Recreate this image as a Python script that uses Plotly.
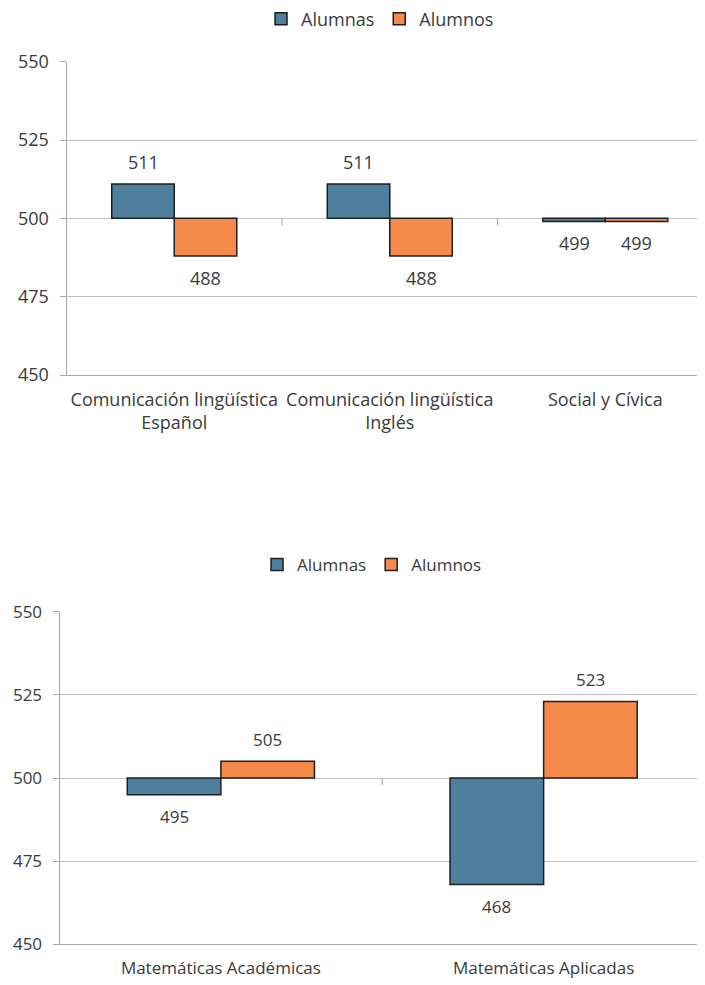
import plotly.graph_objects as go

# ---- data ----
top_categories = ["Comunicación lingüística<br>Español", "Comunicación lingüística<br>Inglés", "Social y Cívica"]
top_alumnas = [511, 511, 499]
top_alumnos = [488, 488, 499]
bottom_categories = ["Matemáticas Académicas", "Matemáticas Aplicadas"]
bottom_alumnas = [495, 468]
bottom_alumnos = [505, 523]
series_names = ["Alumnas", "Alumnos"]
y_ticks = [450, 475, 500, 525, 550]
baseline = 500

# ---- style ----
PAGE_OFF = 8            # default body margin of the written page
W, H = 705 - PAGE_OFF, 985 - PAGE_OFF
BLUE = "#4e7f9d"
ORANGE = "#f58a4b"
EDGE = "#1f1f1f"
GRID = "#c3c3c3"
TXT = "#3a3a3a"
FONT = "Open Sans"
BARGAP = 0.42


def px_x(x):
    return (x - PAGE_OFF) / W


def px_y(y):
    return 1 - (y - PAGE_OFF) / H


fig = go.Figure()


def add_group(cats, alumnas, alumnos, xa, ya, legend, fsize):
    for name, vals, col in [(series_names[0], alumnas, BLUE), (series_names[1], alumnos, ORANGE)]:
        fig.add_trace(go.Bar(
            x=cats, y=[v - baseline for v in vals], base=baseline,
            name=name, marker=dict(color=col, line=dict(color=EDGE, width=1.5)),
            xaxis=xa, yaxis=ya, legend=legend, showlegend=True,
        ))
    half = (1 - BARGAP) / 4
    for i in range(len(cats)):
        for off, v in [(-half, alumnas[i]), (half, alumnos[i])]:
            fig.add_annotation(
                x=i + off, y=v, xref=xa, yref=ya, text=str(v), showarrow=False,
                yshift=22 if v >= baseline else -22,
                font=dict(family=FONT, size=fsize, color=TXT),
            )
    for i in range(len(cats)):
        fig.add_shape(type="line", xref=xa, yref=ya, x0=i + 0.5, x1=i + 0.5,
                      ysizemode="pixel", yanchor=baseline, y0=0, y1=-7,
                      line=dict(color="#a0a0a0", width=1))


add_group(top_categories, top_alumnas, top_alumnos, "x", "y", "legend", 18)
add_group(bottom_categories, bottom_alumnas, bottom_alumnos, "x2", "y2", "legend2", 17)


def yaxis(domain, anchor, size):
    return dict(domain=domain, anchor=anchor, range=[450, 550], tickvals=y_ticks,
                showgrid=True, gridcolor=GRID, gridwidth=1, zeroline=False,
                showline=True, linecolor="#a8a8a8", linewidth=1,
                ticks="outside", ticklen=6, tickcolor="#a8a8a8",
                ticklabelstandoff=7,
                tickfont=dict(family=FONT, size=size, color=TXT), fixedrange=True)


def xaxis(domain, anchor, rng, size):
    return dict(domain=domain, anchor=anchor, range=rng, type="category",
                showgrid=False, zeroline=False, showline=True, linecolor="#a8a8a8",
                ticks="", ticklabelstandoff=8,
                tickfont=dict(family=FONT, size=size, color=TXT), fixedrange=True)


fig.update_layout(
    width=W, height=H, autosize=False,
    margin=dict(l=0, r=0, t=0, b=0, autoexpand=False),
    paper_bgcolor="white", plot_bgcolor="white",
    barmode="group", bargap=BARGAP, bargroupgap=0,
    xaxis=xaxis([px_x(66.5), 1], "y", [-0.5, 2.5 - 8 / 214], 18),
    yaxis=yaxis([px_y(375), px_y(61.7)], "x", 18),
    xaxis2=xaxis([px_x(59.5), 1], "y2", [-0.5, 1.5], 17),
    yaxis2=yaxis([px_y(944.3), px_y(611.7)], "x2", 17),
    legend=dict(orientation="h", x=px_x(380), xanchor="center", y=px_y(19), yanchor="middle",
                font=dict(family=FONT, size=18, color=TXT), bgcolor="rgba(0,0,0,0)", itemclick=False),
    legend2=dict(orientation="h", x=px_x(372), xanchor="center", y=px_y(565), yanchor="middle",
                 font=dict(family=FONT, size=17, color=TXT), bgcolor="rgba(0,0,0,0)", itemclick=False),
    font=dict(family=FONT, color=TXT),
)

fig.write_html("out.html")
